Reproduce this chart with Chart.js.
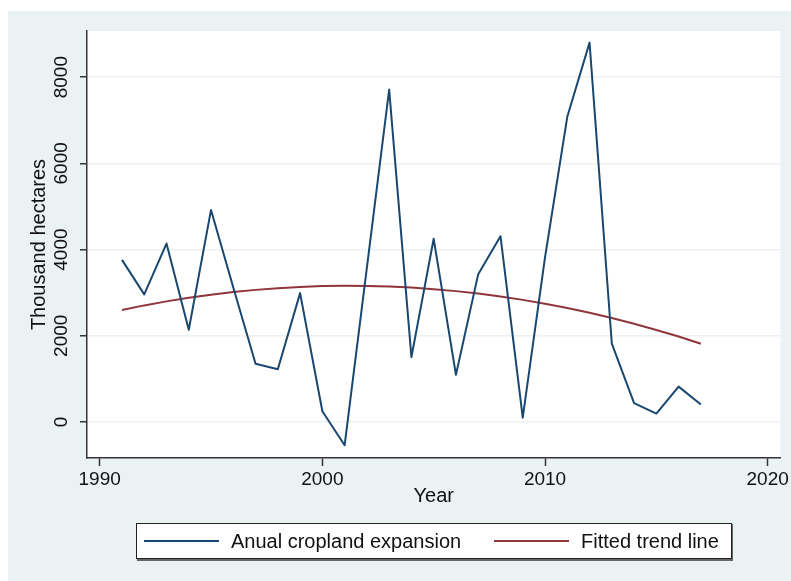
<!DOCTYPE html>
<html lang="en">
<head>
<meta charset="UTF-8">
<title>Annual cropland expansion</title>
<script src="https://cdn.jsdelivr.net/npm/chart.js"></script>
<style>
  body { margin: 0; background: #fff; }
  #wrap { width: 791px; height: 581px; }
</style>
</head>
<body>
<div id="wrap"><canvas id="cropChart" width="791" height="581"></canvas></div>
<script>
const years = [1991, 1992, 1993, 1994, 1995, 1996, 1997, 1998, 1999, 2000,
               2001, 2002, 2003, 2004, 2005, 2006, 2007, 2008, 2009, 2010,
               2011, 2012, 2013, 2014, 2015, 2016, 2017];
// annual cropland expansion, thousand hectares
const cropland = [3760, 2960, 4140, 2140, 4920, 3120, 1350, 1225, 2990, 250,
                  -540, 3580, 7710, 1505, 4250, 1095, 3430, 4310, 100, 3820,
                  7080, 8800, 1820, 440, 195, 820, 405];
// fitted (quadratic) trend
const trend = [2600, 2705, 2798, 2881, 2953, 3015, 3065, 3105, 3134, 3152,
               3160, 3157, 3143, 3118, 3082, 3036, 2979, 2911, 2833, 2743,
               2643, 2532, 2411, 2279, 2135, 1982, 1817];
const xTicks = [1990, 2000, 2010, 2020];
const yTicks = [0, 2000, 4000, 6000, 8000];
const seriesNames = ["Anual cropland expansion", "Fitted trend line"];

const FONT = "'Liberation Sans', Arial, sans-serif";
const BG = "#eaf2f3";
const AXIS = "#333";

const bgPlugin = {
    id: "bg",
    beforeDraw(chart) {
        const { ctx, chartArea: a } = chart;
        ctx.save();
        ctx.fillStyle = "#fff";
        ctx.fillRect(0, 0, chart.width, chart.height);
        ctx.fillStyle = BG;
        ctx.fillRect(8, 11, chart.width - 8, chart.height - 11);
        ctx.fillStyle = "#fff";
        ctx.fillRect(a.left, a.top, a.right - a.left, a.bottom - a.top);
        ctx.restore();
    }
};

// Stata-style vertical tick labels on the y axis
const yLabelPlugin = {
    id: "yLabels",
    afterDraw(chart) {
        const { ctx } = chart;
        const y = chart.scales.y;
        ctx.save();
        ctx.fillStyle = "#111";
        ctx.font = "19px " + FONT;
        ctx.textAlign = "center";
        ctx.textBaseline = "middle";
        y.ticks.forEach(t => {
            ctx.save();
            ctx.translate(62, y.getPixelForValue(t.value));
            ctx.rotate(-Math.PI / 2);
            ctx.fillText(String(t.value), 0, 0);
            ctx.restore();
        });
        ctx.restore();
    }
};

// boxed legend under the plot
const legendPlugin = {
    id: "boxLegend",
    afterDraw(chart) {
        const { ctx } = chart;
        const bx = 136, by = 523, bw = 596, bh = 36;
        ctx.save();
        ctx.fillStyle = "#666";
        ctx.fillRect(bx + 1, by + 1, bw, bh + 1);
        ctx.fillStyle = "#fff";
        ctx.fillRect(bx, by, bw, bh);
        ctx.strokeStyle = "#222";
        ctx.lineWidth = 1;
        ctx.strokeRect(bx + 0.5, by + 0.5, bw - 1, bh - 1);
        const cy = by + bh / 2;
        const starts = [144, 494];
        ctx.font = "20px " + FONT;
        ctx.textBaseline = "middle";
        chart.data.datasets.forEach((ds, i) => {
            const x0 = starts[i];
            ctx.strokeStyle = ds.borderColor;
            ctx.lineWidth = 2;
            ctx.beginPath();
            ctx.moveTo(x0, cy);
            ctx.lineTo(x0 + 75, cy);
            ctx.stroke();
            ctx.fillStyle = "#111";
            ctx.fillText(ds.label, x0 + 87, cy + 1);
        });
        ctx.restore();
    }
};

const ctx = document.getElementById("cropChart").getContext("2d");
const cropChart = new Chart(ctx, {
    type: "line",
    data: {
        datasets: [{
            label: seriesNames[0],
            data: years.map((yr, i) => ({ x: yr, y: cropland[i] })),
            borderColor: "#1a476f",
            borderWidth: 2,
            borderJoinStyle: "round",
            pointRadius: 0,
            tension: 0
        }, {
            label: seriesNames[1],
            data: years.map((yr, i) => ({ x: yr, y: trend[i] })),
            borderColor: "#90353b",
            borderWidth: 2,
            borderJoinStyle: "round",
            pointRadius: 0,
            tension: 0
        }]
    },
    options: {
        responsive: false,
        animation: false,
        devicePixelRatio: 1,
        layout: { padding: { top: 31, right: 10, bottom: 73, left: 0 } },
        plugins: {
            legend: { display: false },
            tooltip: { enabled: false }
        },
        scales: {
            x: {
                type: "linear",
                min: 1989.43,
                max: 2020.58,
                afterBuildTicks: s => { s.ticks = xTicks.map(v => ({ value: v })); },
                afterFit: s => { s.height = 50; },
                grid: { drawOnChartArea: false, drawTicks: true, tickLength: 8, tickColor: AXIS, tickWidth: 1.5 },
                border: { display: true, color: AXIS, width: 1.5 },
                ticks: {
                    color: "#111",
                    font: { family: FONT, size: 19 },
                    padding: 2,
                    maxRotation: 0,
                    callback: v => String(v)
                },
                title: {
                    display: true,
                    text: "Year",
                    color: "#111",
                    font: { family: FONT, size: 20 },
                    padding: { top: 0, bottom: 0 }
                }
            },
            y: {
                min: -835,
                max: 9070,
                afterBuildTicks: s => { s.ticks = yTicks.map(v => ({ value: v })); },
                afterFit: s => { s.width = 87; },
                grid: { color: BG, lineWidth: 1.5, drawTicks: true, tickLength: 7, tickColor: AXIS, tickWidth: 1.5 },
                border: { display: true, color: AXIS, width: 1.5 },
                ticks: { display: false },
                title: {
                    display: true,
                    text: "Thousand hectares",
                    color: "#111",
                    font: { family: FONT, size: 20 },
                    padding: { top: 27, bottom: 0 }
                }
            }
        }
    },
    plugins: [bgPlugin, yLabelPlugin, legendPlugin]
});
</script>
</body>
</html>
